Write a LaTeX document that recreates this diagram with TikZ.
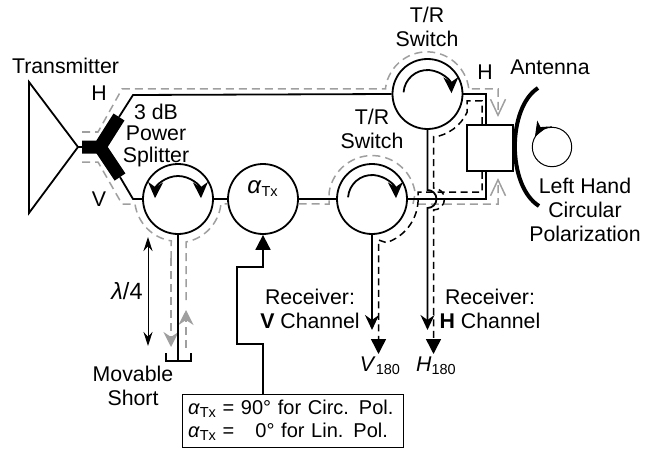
\documentclass[tikz,border=0pt]{standalone}
\usepackage{fontspec}
\setmainfont{Liberation Sans}
\usetikzlibrary{arrows.meta}
\newcommand{\aTx}{\textit{α}\raisebox{-3pt}{\fontsize{14.5}{16}\selectfont Tx}}
\newcommand{\subnum}[1]{\raisebox{-3pt}{\fontsize{14.5}{16}\selectfont #1}}
\begin{document}
\begin{tikzpicture}[x=1pt, y=1pt,
    every node/.style={font=\fontsize{21.3}{24}\selectfont, inner sep=0pt, align=center},
    wire/.style={line width=1.8pt},
    port/.style={draw, circle, line width=1.8pt, minimum size=70pt},
    thinline/.style={line width=1pt},
    grayflow/.style={draw=gray!75, line width=1.5pt, dash pattern=on 8pt off 5pt},
    blackflow/.style={line width=1.5pt, dash pattern=on 7pt off 4.5pt},
    openhead/.style={-{Straight Barb[length=16pt, width=15pt]}},
    grayhead/.style={-{Stealth[length=15pt, width=15pt, inset=5pt]}},
    solidhead/.style={-{Stealth[length=15pt, width=14pt, inset=5pt]}},
    fullhead/.style={-{Triangle[length=15pt, width=15pt]}},
    turnhead/.style={-{Stealth[length=16pt, width=15pt, inset=5pt]}}]
  \useasboundingbox (0,0) rectangle (650,448);

  \node[port] (circ) at (178,249) {};
  \node[port] (phase) at (263,249) {};
  \node[port] (trv) at (372,249) {};
  \node[port] (trh) at (427.5,354) {};
  \node[draw, wire, minimum size=46pt] (box) at (490,300) {};
  \node[draw, thinline, circle, minimum size=39.4pt] (lhcp) at (552,301) {};
  \node[draw, thinline, minimum width=221pt, minimum height=53pt, text width=209pt, align=left,
    font=\fontsize{20}{23}\selectfont] (note) at (292.5,27.5)
    {\aTx{} = 90° for Circ. Pol.\\ \aTx{} = \phantom{9}\,0° for Lin. Pol.};

  \coordinate (apex) at (78,301);
  \coordinate (hub) at (100,301);
  \coordinate (splith) at (119,331);
  \coordinate (splitv) at (120,271);
  \coordinate (vrx) at (372,118);
  \coordinate (hrx) at (427.5,118);

  \node at (65.5,382) {Transmitter};
  \node at (99,354.5) {H};
  \node at (99,249) {V};
  \node[font=\fontsize{21.3}{21.5}\selectfont] at (156,313) {3 dB\\Power\\Splitter};
  \node at (262.5,259) {\fontsize{24}{26}\selectfont\aTx};
  \node at (427,421) {T/R\\Switch};
  \node at (372,319) {T/R\\Switch};
  \node at (485,376) {H};
  \node at (550,381) {Antenna};
  \node at (585,238) {Left Hand\\Circular\\Polarization};
  \node at (310,139) {Receiver:\\\textbf{V} Channel};
  \node at (490,139) {Receiver:\\\textbf{H} Channel};
  \node at (380,82) {\textit{V}\subnum{180}};
  \node at (436,82) {\textit{H}\subnum{180}};
  \node at (133,62) {Movable\\Short};
  \node[font=\fontsize{23.5}{26}\selectfont] at (127,157) {\textit{λ}/4};

  \draw[grayflow, openhead] (82,316) -- (98,316) -- (122,359) -- (385.5,359)
    -- (385.5,360) arc[start angle=172, end angle=8, radius=42] -- (468,359) -- (498,359) -- (498,331);
  \draw[grayflow] (82,286) -- (98,286) -- (122,244) -- (135,244)
    arc[start angle=188, end angle=261, radius=43.5] -- (171,190);
  \draw[grayflow, grayhead] (171,190) -- (171,101);
  \draw[grayflow, grayhead] (186,100) -- (186,138);
  \draw[grayflow] (186,148) -- (186,206) arc[start angle=281, end angle=352, radius=43.5]
    -- (221,244) -- (phase.188);
  \draw[grayflow, openhead] (phase.352) -- (329,244) -- (329,255)
    arc[start angle=172, end angle=8, radius=43.5] -- (413,244) -- (498,244) -- (498,270);

  \draw[line width=13pt] (82,301) -- (hub) -- (splith);
  \draw[line width=13pt] (hub) -- (splitv);
  \draw[wire] (29,366) -- (apex) -- (29,235) -- cycle;
  \draw[wire] (apex) -- (hub);
  \draw[wire] (splith) -- (133,353) -- (trh.west);
  \draw[wire] (splitv) -- (133,249) -- (circ.west);
  \draw[wire] (circ.east) -- (phase.west);
  \draw[wire] (phase.east) -- (trv.west);
  \draw[wire] (trv.east) -| ([xshift=-4pt]box.south);
  \draw[wire] (trh.east) -| ([xshift=-4pt]box.north);
  \draw[wire, solidhead] (trv.south) -- (vrx);
  \draw[wire, solidhead] (trh.south) -- (427.5,258) arc[start angle=90, end angle=-90, radius=9] -- (hrx);
  \draw[wire] (circ.south) -- (178,87);
  \draw[wire] (166,95) -- (166,87) -- (191,87) -- (191,95);
  \draw[wire, fullhead] ([xshift=-29.5pt]note.north) -- (263,104) -- (237,104) -- (237,181) -- (263,181) -- (phase.south);

  \draw[blackflow, fullhead] ([xshift=-8pt]box.north) |- (467,347) -- (467,335.6)
    arc[start angle=-25, end angle=-82, radius=43.5] -- (433.5,311) -- (433.5,260)
    arc[start angle=90, end angle=-90, radius=11] -- (433.5,94);
  \draw[blackflow, fullhead] ([xshift=-8pt]box.south) |- (418,256) -- (418,245.9)
    arc[start angle=-4, end angle=-72, radius=46] -- (378.5,208) -- (378.5,94);

  \draw[thinline, {Stealth[length=14pt, width=9pt]}-{Stealth[length=14pt, width=9pt]}] (148,211) -- (148,102);

  \draw[wire, turnhead] (circ.center) ++(90:23) arc[start angle=90, end angle=178, radius=23];
  \draw[wire, turnhead] (circ.center) ++(90:23) arc[start angle=90, end angle=2, radius=23];
  \draw[wire, turnhead] (trv.center) ++(176:24) arc[start angle=176, end angle=2, radius=24];
  \draw[wire, turnhead] (trh.center) ++(176:24) arc[start angle=176, end angle=2, radius=24];

  \draw[line width=4pt] (538,360) .. controls (507,340) and (507,262) .. (539,242);
  \draw[thinline, -{Stealth[length=15pt, width=12pt, inset=4pt]}] (lhcp.90) arc[start angle=90, end angle=150, radius=19.7];
\end{tikzpicture}
\end{document}
